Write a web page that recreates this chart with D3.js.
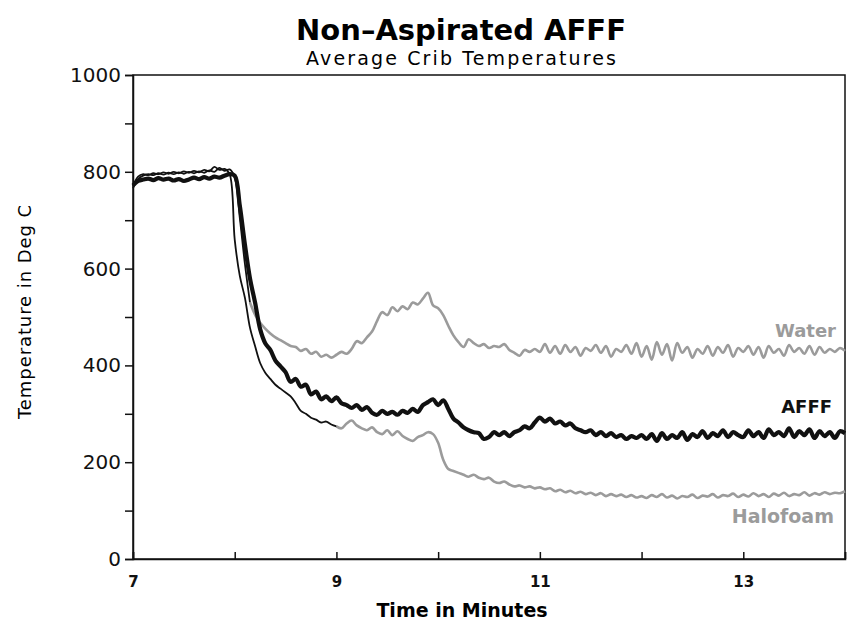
<!DOCTYPE html>
<html>
<head>
<meta charset="utf-8">
<script src="https://cdn.jsdelivr.net/npm/d3@7"></script>
<style>
    body { margin: 0; background: #fff; }
    text { font-family: "DejaVu Sans", sans-serif; }
</style>
</head>
<body>
<svg id="chart" width="854" height="638"></svg>
<script>
// sample grid: one reading every 0.05 minute from 7 to 14
var startTime = 7;
var stepTime = 0.05;

var afffTemps = [
    772, 781, 784, 786, 783, 787, 784, 786, 782, 785, 781, 784, 788, 785, 789, 786, 790, 788, 792, 795,
    792, 730, 650, 580, 530, 475, 446, 432, 410, 398, 386, 366, 372, 356, 360, 340, 346, 330, 336, 326,
    334, 322, 318, 312, 318, 308, 314, 302, 298, 306, 300, 304, 298, 306, 302, 310, 304, 318, 324, 330,
    318, 328, 310, 290, 282, 272, 266, 262, 260, 248, 252, 262, 256, 262, 254, 262, 266, 274, 270, 282,
    292, 284, 290, 280, 284, 276, 280, 270, 266, 262, 266, 256, 262, 254, 260, 252, 256, 248, 254, 250,
    256, 248, 258, 244, 260, 248, 256, 250, 262, 246, 258, 252, 264, 250, 260, 254, 266, 252, 262, 256,
    252, 266, 254, 262, 250, 268, 256, 262, 254, 270, 252, 264, 256, 268, 250, 264, 254, 262, 250, 264, 260
];

var waterTemps = [
    766, 785, 792, 795, 793, 797, 794, 798, 795, 799, 796, 800, 797, 801, 798, 803, 800, 808, 802, 805,
    788, 705, 610, 530, 505, 488, 476, 466, 458, 452, 446, 440, 438, 430, 434, 424, 428, 418, 422, 416,
    422, 428, 424, 434, 450, 446, 458, 470, 492, 510, 504, 520, 512, 522, 516, 530, 526, 538, 550, 524,
    518, 504, 482, 462, 448, 438, 454, 446, 440, 444, 436, 440, 438, 444, 432, 426, 420, 432, 428, 434,
    428, 444, 426, 440, 424, 442, 428, 438, 420, 436, 430, 442, 426, 440, 418, 434, 428, 442, 424, 446,
    418, 440, 412, 448, 422, 444, 410, 446, 426, 438, 416, 434, 424, 440, 420, 438, 426, 442, 418, 436,
    428, 440, 422, 438, 416, 440, 426, 434, 420, 442, 428, 436, 424, 440, 422, 438, 426, 434, 428, 436, 430
];

var halofoamTemps = [
    770, 790, 795, 793, 797, 795, 799, 796, 800, 797, 801, 798, 802, 799, 804, 801, 810, 804, 806, 795,
    660, 585, 540, 478, 440, 405, 385, 372, 360, 352, 344, 336, 322, 306, 300, 292, 288, 282, 284, 278,
    274, 270, 280, 286, 276, 270, 266, 272, 262, 258, 266, 256, 264, 254, 248, 244, 252, 256, 262, 258,
    240, 205, 186, 182, 178, 174, 170, 174, 168, 165, 168, 160, 157, 160, 154, 150, 152, 148, 150, 146,
    148, 144, 146, 140, 143, 138, 141, 136, 139, 134, 137, 132, 136, 130, 134, 130, 133, 128, 132, 127,
    130, 126, 132, 128, 134, 127, 131, 125, 130, 128, 133, 126, 131, 129, 134, 127, 132, 130, 135, 128,
    133, 129, 136, 130, 134, 128, 135, 131, 137, 130, 134, 132, 138, 131, 136, 133, 138, 134, 137, 136, 140
];

var seriesNames = ["Water", "AFFF", "Halofoam"];
var yTickValues = [0, 100, 200, 300, 400, 500, 600, 700, 800, 900, 1000];
var yTickLabels = [0, 200, 400, 600, 800, 1000];
var xTickValues = [7, 8, 9, 10, 11, 12, 13, 14];
var xTickLabels = [7, 9, 11, 13];

var svg = d3.select("#chart");

var x = d3.scaleLinear().domain([7, 14]).range([133, 845]);
var y = d3.scaleLinear().domain([0, 1000]).range([559, 75]);

var toPoints = function(temps) {
    return temps.map(function(v, i) {
        return { t: startTime + i * stepTime, v: v };
    });
};

var line = d3.line()
    .curve(d3.curveCatmullRom.alpha(0.5))
    .x(function(d) { return x(d.t); })
    .y(function(d) { return y(d.v); });

// titles
svg.append("text")
    .attr("x", 461).attr("y", 40)
    .attr("text-anchor", "middle")
    .attr("font-size", 29).attr("font-weight", "bold")
    .text("Non\u2013Aspirated AFFF");

svg.append("text")
    .attr("x", 461).attr("y", 65)
    .attr("text-anchor", "middle")
    .attr("font-size", 19)
    .attr("textLength", 310).attr("lengthAdjust", "spacing")
    .text("Average Crib Temperatures");

// frame
svg.append("rect")
    .attr("x", x(7)).attr("y", y(1000))
    .attr("width", x(14) - x(7)).attr("height", y(0) - y(1000))
    .attr("fill", "none").attr("stroke", "#111").attr("stroke-width", 1.5);

// y axis
var yAxis = svg.append("g")
    .attr("transform", "translate(" + x(7) + ",0)")
    .call(d3.axisLeft(y)
        .tickValues(yTickValues)
        .tickSize(8)
        .tickFormat(function(d) { return yTickLabels.indexOf(d) >= 0 ? d : ""; }));
yAxis.select(".domain").attr("stroke", "#111").attr("stroke-width", 1.5);
yAxis.selectAll(".tick line").attr("stroke", "#111").attr("stroke-width", 1.5);
yAxis.selectAll(".tick text")
    .attr("font-size", 20).attr("font-family", "DejaVu Sans").attr("fill", "#111")
    .attr("x", -12);

// x axis
var xAxis = svg.append("g")
    .attr("transform", "translate(0," + y(0) + ")")
    .call(d3.axisBottom(x)
        .tickValues(xTickValues)
        .tickSize(-7)
        .tickFormat(function(d) { return xTickLabels.indexOf(d) >= 0 ? d : ""; }));
xAxis.select(".domain").attr("stroke", "#111").attr("stroke-width", 1.5);
xAxis.selectAll(".tick line").attr("stroke", "#111").attr("stroke-width", 1.5);
xAxis.selectAll(".tick text")
    .attr("font-size", 15).attr("font-family", "DejaVu Sans").attr("font-weight", "bold")
    .attr("fill", "#111").attr("y", 17);

// axis titles
svg.append("text")
    .attr("transform", "translate(31,312) rotate(-90)")
    .attr("text-anchor", "middle")
    .attr("font-size", 18)
    .attr("textLength", 214).attr("lengthAdjust", "spacing")
    .text("Temperature in Deg C");

svg.append("text")
    .attr("x", 462).attr("y", 617)
    .attr("text-anchor", "middle")
    .attr("font-size", 19).attr("font-weight", "bold")
    .text("Time in Minutes");

// series: early part of the thin traces is printed black
var series = [
    { name: seriesNames[0], temps: waterTemps, color: "#9b9b9b", width: 2.6, blackUntil: 8.15 },
    { name: seriesNames[2], temps: halofoamTemps, color: "#9b9b9b", width: 2.6, blackUntil: 9.0 },
    { name: seriesNames[1], temps: afffTemps, color: "#111", width: 4.2, blackUntil: null }
];

var plot = svg.append("g");

series.forEach(function(s) {
    var pts = toPoints(s.temps);
    if (s.blackUntil === null) {
        plot.append("path")
            .datum(pts)
            .attr("d", line)
            .attr("fill", "none").attr("stroke", s.color)
            .attr("stroke-width", s.width).attr("stroke-linejoin", "round");
        return;
    }
    var early = pts.filter(function(d) { return d.t <= s.blackUntil + 1e-9; });
    var late = pts.filter(function(d) { return d.t >= s.blackUntil - 1e-9; });
    plot.append("path")
        .datum(late)
        .attr("d", line)
        .attr("fill", "none").attr("stroke", s.color)
        .attr("stroke-width", s.width).attr("stroke-linejoin", "round");
    plot.append("path")
        .datum(early)
        .attr("d", line)
        .attr("fill", "none").attr("stroke", "#111")
        .attr("stroke-width", 1.8).attr("stroke-linejoin", "round");
});

// series labels
var labels = [
    { name: seriesNames[0], x: 836, y: 337, color: "#9b9b9b" },
    { name: seriesNames[1], x: 832, y: 413, color: "#111" },
    { name: seriesNames[2], x: 834, y: 523, color: "#9b9b9b" }
];

svg.selectAll(".series-label")
    .data(labels)
  .enter()
    .append("text")
    .attr("class", "series-label")
    .attr("x", function(d) { return d.x; })
    .attr("y", function(d) { return d.y; })
    .attr("text-anchor", "end")
    .attr("font-size", function(d) { return d.name === "Halofoam" ? 19 : 18; })
    .attr("font-weight", "bold")
    .attr("fill", function(d) { return d.color; })
    .text(function(d) { return d.name; });
</script>
</body>
</html>
